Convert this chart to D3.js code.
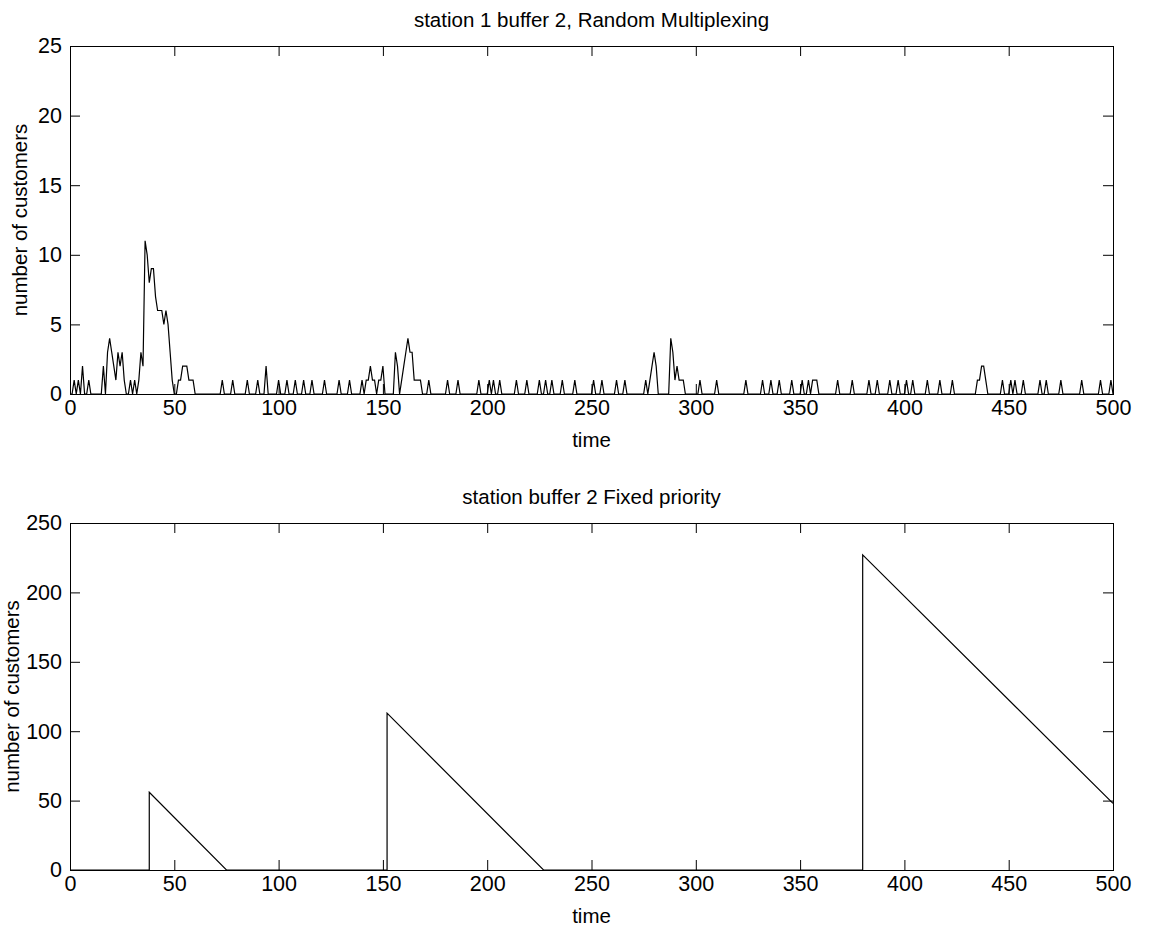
<!DOCTYPE html>
<html>
<head>
<meta charset="utf-8">
<script src="https://cdn.jsdelivr.net/npm/d3@7"></script>
<style>
  body { margin: 0; background: #fff; }
  text { font-family: "Liberation Sans", Arial, Helvetica, sans-serif; }
</style>
</head>
<body>
<div id="chart"></div>
<script>
var width = 1152
var height = 935

// station 1 buffer 2, random multiplexing: queue length per time step (0 unless listed)
var singleArrivals = [73, 78, 85, 90, 100, 104, 108, 112, 116, 122, 129, 134, 140, 172, 181, 186,
  196, 201, 203, 206, 214, 219, 225, 228, 231, 236, 242, 251, 255, 262, 266, 302, 310, 324,
  332, 336, 340, 346, 351, 368, 375, 383, 387, 393, 397, 401, 404, 411, 417, 423, 447, 451,
  453, 457, 465, 468, 475, 485, 494, 499]
var burstStarts = [2, 16, 29, 94, 142, 156, 276, 288, 354, 435]
var burstCounts = [
  [1, 0, 1, 0, 2, 0, 0, 1],
  [2, 0, 3, 4, 3, 2, 1, 3, 2, 3, 1],
  [1, 0, 1, 0, 1, 3, 2, 11, 10, 8, 9, 9, 7, 6, 6, 6, 5, 6, 5, 3, 1, 0, 0, 1, 1, 2, 2, 2, 1, 1, 1],
  [2],
  [1, 1, 2, 1, 1, 0, 1, 1, 2],
  [3, 2, 0, 1, 2, 3, 4, 3, 3, 1, 1, 1, 1],
  [1, 0, 1, 2, 3, 2],
  [4, 3, 1, 2, 1, 1, 1],
  [1, 0, 1, 1, 1],
  [1, 1, 2, 2, 1]
]

// station buffer 2, fixed priority: corners of the sawtooth
var fixedTimes = [0, 38, 38, 75, 152, 152, 227, 380, 380, 500]
var fixedCounts = [0, 0, 56, 0, 0, 113, 0, 0, 227, 48]

var xTicks = [0, 50, 100, 150, 200, 250, 300, 350, 400, 450, 500]
var yTicksTop = [0, 5, 10, 15, 20, 25]
var yTicksBottom = [0, 50, 100, 150, 200, 250]

var queue = d3.range(0, 501).map(t => ({t, n: 0}))
singleArrivals.forEach(t => queue[t].n = 1)
burstStarts.forEach((s, i) => {
  burstCounts[i].forEach((n, j) => queue[s + j].n = n)
})
var fixed = fixedTimes.map((t, i) => ({t, n: fixedCounts[i]}))

var svg = d3.select('#chart').append('svg')
  .attr('width', width)
  .attr('height', height)

var left = 70, right = 1113
var tickFont = 21.5
var labelFont = 20.5

function panel(o){
  var x = d3.scaleLinear().domain([0, 500]).range([left, right])
  var y = d3.scaleLinear().domain([0, o.yMax]).range([o.bottom, o.top])
  var g = svg.append('g')

  var tick = 10

  g.append('g').attr('transform', `translate(0,${o.bottom})`)
    .call(d3.axisBottom(x).tickValues(xTicks).tickSize(-tick).tickPadding(6))
  g.append('g').attr('transform', `translate(0,${o.top})`)
    .call(d3.axisTop(x).tickValues(xTicks).tickSize(-tick).tickFormat(''))
  g.append('g').attr('transform', `translate(${left},0)`)
    .call(d3.axisLeft(y).tickValues(o.yTicks).tickSize(-tick).tickPadding(8))
  g.append('g').attr('transform', `translate(${right},0)`)
    .call(d3.axisRight(y).tickValues(o.yTicks).tickSize(-tick).tickFormat(''))

  g.selectAll('.domain').remove()
  g.selectAll('.tick line').attr('stroke', '#000').attr('stroke-width', 1)
  g.selectAll('.tick text')
    .attr('fill', '#000')
    .style('font-size', tickFont + 'px')
    .style('font-family', '"Liberation Sans", Arial, sans-serif')

  g.append('rect')
    .attr('x', left + 0.5).attr('y', o.top + 0.5)
    .attr('width', right - left).attr('height', o.bottom - o.top)
    .attr('fill', 'none').attr('stroke', '#000').attr('stroke-width', 1)

  var line = d3.line().x(d => x(d.t)).y(d => y(d.n))
  g.append('path')
    .datum(o.data)
    .attr('d', line)
    .attr('fill', 'none')
    .attr('stroke', '#000')
    .attr('stroke-width', 1.2)
    .attr('stroke-linejoin', 'miter')

  g.append('text')
    .attr('x', (left + right) / 2).attr('y', o.top - 19)
    .attr('text-anchor', 'middle')
    .style('font-size', labelFont + 'px')
    .text(o.title)

  g.append('text')
    .attr('x', (left + right) / 2).attr('y', o.bottom + 53)
    .attr('text-anchor', 'middle')
    .style('font-size', labelFont + 'px')
    .text('time')

  g.append('text')
    .attr('transform', `translate(${o.ylabelX},${(o.top + o.bottom) / 2}) rotate(-90)`)
    .attr('text-anchor', 'middle')
    .style('font-size', labelFont + 'px')
    .text('number of customers')
}

panel({top: 46, bottom: 394, yMax: 25, yTicks: yTicksTop, data: queue,
  title: 'station 1 buffer 2, Random Multiplexing', ylabelX: 27})
panel({top: 523, bottom: 870, yMax: 250, yTicks: yTicksBottom, data: fixed,
  title: 'station buffer 2 Fixed priority', ylabelX: 19})
</script>
</body>
</html>
